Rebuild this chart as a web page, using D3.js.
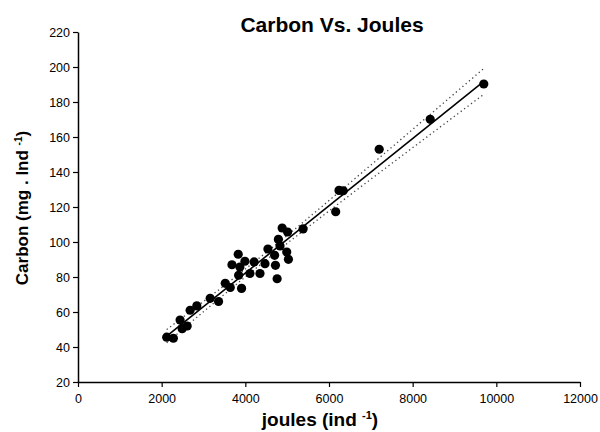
<!DOCTYPE html>
<html>
<head>
<meta charset="utf-8">
<script src="https://cdn.jsdelivr.net/npm/d3@7"></script>
<style>
  body { margin: 0; background: #fff; }
  svg { display: block; font-family: "Liberation Sans", Arial, sans-serif; }
</style>
</head>
<body>
<svg id="chart" width="600" height="432"></svg>
<script>
const joules = [2120, 2280, 2440, 2490, 2610, 2680, 2840, 3160, 3360, 3520, 3640, 3680, 3830, 3870, 3840, 3910, 3990, 4110, 4210, 4350, 4470, 4540, 4700, 4720, 4760, 4790, 4830, 4880, 4990, 5010, 5030, 5380, 6160, 6240, 6340, 7200, 8420, 9700];
const carbon = [45.6, 45, 55.4, 50.5, 52, 61, 63.5, 67.8, 66, 76.4, 74, 87, 93, 85.7, 81, 73.5, 89, 82, 88.6, 82, 87.6, 96, 92.4, 86.7, 79, 101.5, 97.7, 108, 94.3, 105.7, 90.1, 107.5, 117.3, 129.5, 129.3, 153, 170.1, 190.3];
const xTicks = [0, 2000, 4000, 6000, 8000, 10000, 12000];
const yTicks = [20, 40, 60, 80, 100, 120, 140, 160, 180, 200, 220];
const title = "Carbon Vs. Joules";

const svg = d3.select("#chart");
const x = d3.scaleLinear().domain([0, 12000]).range([78, 580]);
const y = d3.scaleLinear().domain([20, 220]).range([382, 32]);

// axes
const xAxis = svg.append("g").attr("transform", "translate(0,382)")
  .call(d3.axisBottom(x).tickValues(xTicks).tickFormat(d3.format("d")).tickSize(5).tickSizeOuter(0));
const yAxis = svg.append("g").attr("transform", "translate(78,0)")
  .call(d3.axisLeft(y).tickValues(yTicks).tickSize(5).tickSizeOuter(0));
[xAxis, yAxis].forEach(g => {
  g.select(".domain").attr("stroke", "#000").attr("stroke-width", 1.5);
  g.selectAll(".tick line").attr("stroke", "#000").attr("stroke-width", 1.2);
  g.selectAll(".tick text").attr("fill", "#000").style("font-size", "12.5px")
    .style("font-family", "'Liberation Sans', Arial, sans-serif");
});
xAxis.selectAll(".tick text").attr("dy", "1.0em");
yAxis.selectAll(".tick text").attr("x", -8);

// regression + 95% CI
const data = joules.map((j, i) => ({ x: j, y: carbon[i] }));
const n = data.length;
const mx = d3.mean(joules), my = d3.mean(carbon);
const sxx = d3.sum(joules, v => (v - mx) ** 2);
const sxy = d3.sum(data, d => (d.x - mx) * (d.y - my));
const b = sxy / sxx, a = my - b * mx;
const s = Math.sqrt(d3.sum(data, d => (d.y - (a + b * d.x)) ** 2) / (n - 2));
const t = 2.03;
const [xmin, xmax] = d3.extent(joules);
const xs = d3.range(0, 101).map(i => xmin + (xmax - xmin) * i / 100);
const ci = sign => xs.map(v => [v, a + b * v + sign * t * s * Math.sqrt(1 / n + (v - mx) ** 2 / sxx)]);
const line = d3.line().x(d => x(d[0])).y(d => y(d[1]));

[-1, 1].forEach(sg => {
  svg.append("path").datum(ci(sg)).attr("d", line)
    .attr("fill", "none").attr("stroke", "#444").attr("stroke-width", 1.3)
    .attr("stroke-dasharray", "1.3,3");
});
svg.append("path").datum([[xmin, a + b * xmin], [xmax, a + b * xmax]]).attr("d", line)
  .attr("fill", "none").attr("stroke", "#000").attr("stroke-width", 1.6);

// points
svg.append("g").selectAll("circle").data(data).join("circle")
  .attr("cx", d => x(d.x)).attr("cy", d => y(d.y)).attr("r", 4.6).attr("fill", "#000");

// title
svg.append("text").attr("x", 332).attr("y", 32).attr("text-anchor", "middle")
  .style("font-size", "21px").style("font-weight", "bold").text(title);

// x label
const xl = svg.append("text").attr("x", 320).attr("y", 426).attr("text-anchor", "middle")
  .style("font-size", "19px").style("font-weight", "bold");
xl.append("tspan").text("joules (ind ");
xl.append("tspan").attr("dy", -7).style("font-size", "11px").text("-1");
xl.append("tspan").attr("dy", 7).text(")");

// y label
const yl = svg.append("text").attr("transform", "translate(28,208) rotate(-90)").attr("text-anchor", "middle")
  .style("font-size", "17px").style("font-weight", "bold");
yl.append("tspan").text("Carbon (mg . Ind ");
yl.append("tspan").attr("dy", -6).style("font-size", "10px").text("-1");
yl.append("tspan").attr("dy", 6).text(")");
</script>
</body>
</html>
